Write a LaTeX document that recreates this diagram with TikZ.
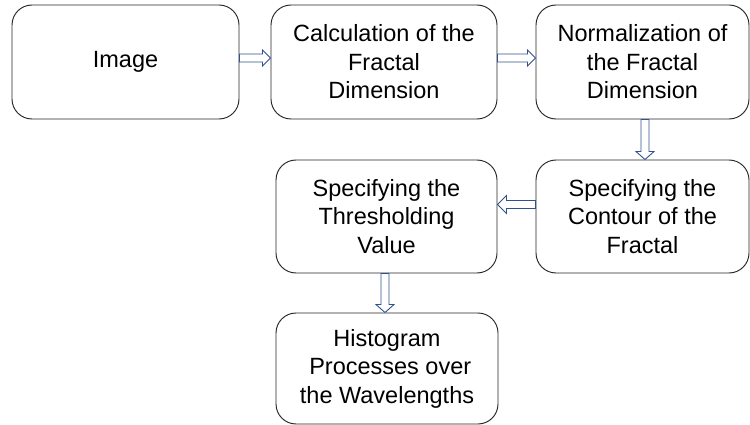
\documentclass[tikz,border=0pt]{standalone}
\usepackage{fontspec}
\setmainfont{Liberation Sans}
\usetikzlibrary{calc}
\definecolor{arrowblue}{RGB}{47,82,143}
\tikzset{
  box/.style={draw=black!85, line width=0.95pt, rounded corners=20pt, align=center,
    inner sep=0pt, font=\fontsize{23.5}{28.5}\selectfont},
  barrow/.style={draw=arrowblue, fill=white, line width=0.9pt, line join=miter}
}
\newcommand\rightblock[3]{%
  \draw[barrow] let \p1=(#1.east), \p2=(#2.west), \n1={\y1+#3pt} in
    (\x1,\n1+4pt) -- (\x2-8pt,\n1+4pt) -- (\x2-8pt,\n1+8pt) -- (\x2,\n1)
    -- (\x2-8pt,\n1-8pt) -- (\x2-8pt,\n1-4pt) -- (\x1,\n1-4pt) -- cycle;}
\newcommand\leftblock[3]{%
  \draw[barrow] let \p1=(#1.west), \p2=(#2.east), \n1={\y1+#3pt} in
    (\x1,\n1+4pt) -- (\x2+9pt,\n1+4pt) -- (\x2+9pt,\n1+9pt) -- (\x2,\n1)
    -- (\x2+9pt,\n1-9pt) -- (\x2+9pt,\n1-4pt) -- (\x1,\n1-4pt) -- cycle;}
\newcommand\downblock[3]{%
  \draw[barrow] let \p1=(#1.south), \p2=(#2.north), \n1={\x1+#3pt} in
    (\n1-4pt,\y1) -- (\n1-4pt,\y2+8pt) -- (\n1-9pt,\y2+8pt) -- (\n1,\y2)
    -- (\n1+9pt,\y2+8pt) -- (\n1+4pt,\y2+8pt) -- (\n1+4pt,\y1) -- cycle;}
\begin{document}
\begin{tikzpicture}[x=1pt,y=-1pt]
\useasboundingbox (0,0) rectangle (750,425);
\node[box, minimum width=227pt, minimum height=114pt] (img) at (125.5,62) {Image};
\node[box, minimum width=226pt, minimum height=114pt] (calc) at (384,62) {Calculation of the\\Fractal\\Dimension};
\node[box, minimum width=213pt, minimum height=114pt] (norm) at (642.5,62) {Normalization of\\the Fractal\\Dimension};
\node[box, minimum width=213pt, minimum height=113pt] (cont) at (642.5,216.5) {Specifying the\\Contour of the\\Fractal};
\node[box, minimum width=221pt, minimum height=113pt] (thr) at (386.5,216.5) {Specifying the\\Thresholding\\Value};
\node[box, minimum width=222pt, minimum height=111pt] (hist) at (387,368.5) {Histogram\\\ Processes over\\the Wavelengths};
\rightblock{img}{calc}{4}
\rightblock{calc}{norm}{4}
\downblock{norm}{cont}{2.5}
\leftblock{cont}{thr}{12}
\downblock{thr}{hist}{-1.5}
\end{tikzpicture}
\end{document}
